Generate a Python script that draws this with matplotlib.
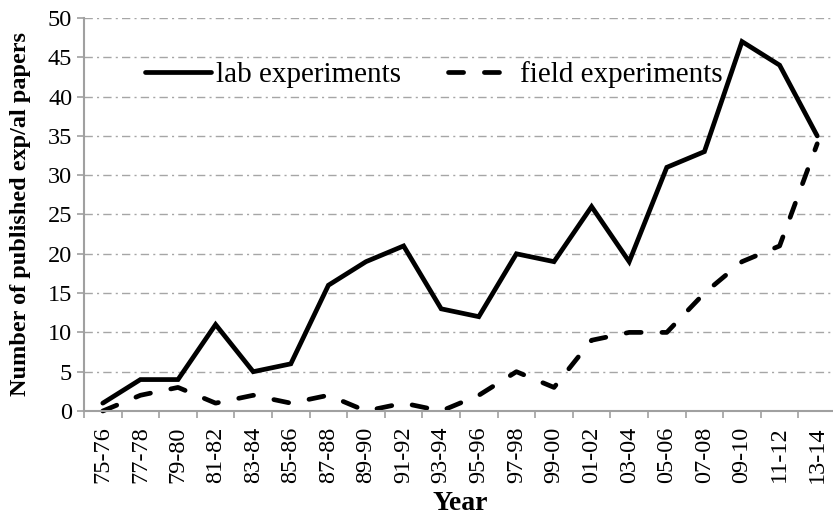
import matplotlib
matplotlib.use("Agg")
import matplotlib.pyplot as plt

categories = ["75-76", "77-78", "79-80", "81-82", "83-84", "85-86", "87-88", "89-90",
              "91-92", "93-94", "95-96", "97-98", "99-00", "01-02", "03-04", "05-06",
              "07-08", "09-10", "11-12", "13-14"]
lab = [1, 4, 4, 11, 5, 6, 16, 19, 21, 13, 12, 20, 19, 26, 19, 31, 33, 47, 44, 35]
field = [0, 2, 3, 1, 2, 1, 2, 0, 1, 0, 2, 5, 3, 9, 10, 10, 15, 19, 21, 34]
yticks = list(range(0, 51, 5))

plt.rcParams['font.family'] = ['Liberation Serif', 'DejaVu Serif']

W, H = 833, 518
fig = plt.figure(figsize=(W / 100, H / 100), dpi=100)
left, right, top, bottom = 84, 836, 18, 411
ax = fig.add_axes([left / W, 1 - bottom / H, (right - left) / W, (bottom - top) / H])

x = list(range(len(categories)))
ax.plot(x, lab, color='black', lw=3.4, solid_capstyle='round', solid_joinstyle='miter',
        label='lab experiments', clip_on=False)
ax.plot(x, field, color='black', lw=3.4, linestyle=(0, (3.2, 4.4)), dash_capstyle='round',
        label='field experiments', clip_on=False)

ax.set_xlim(-0.5, len(categories) - 0.5)
ax.set_ylim(0, 50)
ax.set_yticks(yticks)
ax.set_xticks([i - 0.5 for i in range(len(categories))], minor=False)
ax.set_xticklabels([])
ax.set_xticks(x, minor=True)
ax.set_xticklabels(categories, minor=True, rotation=90, fontsize=17.5)
ax.tick_params(axis='x', which='major', length=5, color='#a0a0a0', width=1.2)
ax.tick_params(axis='x', which='minor', length=0, pad=11)
ax.tick_params(axis='y', length=5, color='#a0a0a0', width=1.2, labelsize=17.5, pad=3.5)

ax.grid(axis='y', color='#a6a6a6', linestyle=(0, (6, 3, 1.5, 3)), lw=1)
ax.set_axisbelow(True)
for s in ['top', 'right']:
    ax.spines[s].set_visible(False)
for s in ['left', 'bottom']:
    ax.spines[s].set_color('#a0a0a0')
    ax.spines[s].set_linewidth(1.5)

ax.set_ylabel('Number of published exp/al papers', fontsize=17.5, fontweight='bold', labelpad=12)
ax.set_xlabel('Year', fontsize=20, fontweight='bold', labelpad=6)

leg = ax.legend(loc='center left', bbox_to_anchor=(145 / W, 1 - 75 / H),
                bbox_transform=fig.transFigure, ncol=2, frameon=False, borderpad=0,
                borderaxespad=0, fontsize=21, handlelength=2.25, handletextpad=0.2,
                columnspacing=1.6)

fig.savefig('out.png', dpi=100)
